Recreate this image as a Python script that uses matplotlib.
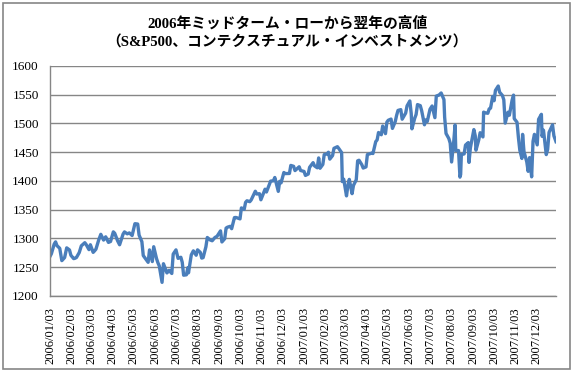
import matplotlib
matplotlib.use("Agg")
import matplotlib.pyplot as plt
from matplotlib.patches import Rectangle
import pandas as pd

title_lines = ["2006年ミッドターム・ローから翌年の高値", "（S&P500、コンテクスチュアル・インベストメンツ）"]

dates_2006 = ["01-03","01-05","01-09","01-11","01-13","01-17","01-20","01-24","01-27","01-31",
"02-02","02-06","02-08","02-10","02-14","02-17","02-22","02-24","02-28",
"03-02","03-06","03-08","03-10","03-14","03-17","03-21","03-24","03-28","03-31",
"04-04","04-06","04-10","04-13","04-18","04-20","04-24","04-27",
"05-01","05-05","05-09","05-11","05-15","05-17","05-19","05-22","05-24","05-26","05-30",
"06-01","06-05","06-07","06-09","06-13","06-15","06-20","06-23","06-27","06-29",
"07-03","07-06","07-10","07-12","07-14","07-18","07-20","07-21","07-25","07-28",
"08-01","08-03","08-07","08-09","08-11","08-15","08-17","08-21","08-24","08-28","08-31",
"09-05","09-07","09-11","09-13","09-15","09-19","09-21","09-25","09-27","09-29",
"10-03","10-05","10-09","10-11","10-13","10-17","10-19","10-23","10-25","10-27","10-31",
"11-02","11-06","11-08","11-10","11-14","11-16","11-20","11-22","11-27","11-29",
"12-01","12-05","12-07","12-11","12-13","12-15","12-19","12-21","12-27","12-29"]
values_2006 = [1268.80,1273.48,1290.15,1294.18,1287.61,1282.93,1261.49,1266.86,1283.72,1280.08,
1270.84,1265.02,1265.65,1266.99,1275.51,1287.24,1292.67,1289.43,1280.66,
1289.14,1275.88,1278.47,1281.42,1297.48,1307.25,1297.23,1302.95,1293.23,1294.83,
1311.56,1309.04,1296.33,1289.12,1307.65,1311.46,1308.11,1309.72,
1305.19,1325.76,1325.14,1305.92,1294.50,1270.32,1267.03,1262.07,1258.57,1280.16,1259.87,
1285.71,1265.29,1257.93,1252.30,1223.69,1256.16,1240.12,1244.50,1239.20,1272.87,
1280.19,1265.48,1267.34,1258.60,1236.20,1236.86,1249.13,1240.29,1271.48,1278.55,
1270.92,1280.27,1275.77,1265.95,1266.74,1285.58,1301.78,1297.52,1296.06,1301.78,1303.82,
1313.25,1294.02,1299.54,1318.07,1319.66,1321.18,1317.07,1336.35,1336.59,1335.85,
1334.11,1353.22,1350.66,1362.83,1365.62,1364.05,1366.96,1377.02,1382.22,1377.34,1377.94,
1367.34,1379.78,1385.72,1380.90,1393.22,1399.76,1400.50,1406.09,1381.96,1399.48,
1396.71,1414.76,1412.90,1413.04,1413.11,1427.09,1425.55,1418.10,1424.73,1418.30]

dates_2007 = ["01-03","01-05","01-09","01-11","01-16","01-18","01-22","01-24","01-26","01-30",
"02-01","02-05","02-07","02-09","02-13","02-15","02-20","02-22","02-26","02-27",
"03-01","03-05","03-07","03-09","03-13","03-15","03-19","03-21","03-23","03-27","03-29",
"04-02","04-04","04-10","04-12","04-16","04-18","04-20","04-24","04-26","04-30",
"05-02","05-04","05-08","05-10","05-14","05-16","05-18","05-22","05-24","05-29","05-31",
"06-04","06-06","06-07","06-11","06-13","06-15","06-19","06-21","06-25","06-27","06-29",
"07-03","07-06","07-10","07-12","07-16","07-19","07-23","07-24","07-26","07-30",
"08-01","08-03","08-06","08-08","08-09","08-13","08-15","08-16","08-17","08-21","08-23","08-27","08-28","08-30",
"09-04","09-06","09-07","09-11","09-13","09-17","09-18","09-20","09-24","09-26","09-28",
"10-01","10-03","10-05","10-09","10-11","10-15","10-17","10-19","10-23","10-25","10-29","10-31",
"11-01","11-05","11-07","11-09","11-12","11-13","11-15","11-19","11-21","11-23","11-26","11-28","11-30",
"12-04","12-06","12-10","12-11","12-13","12-17","12-19","12-21","12-26","12-28","12-31"]
values_2007 = [1416.60,1409.71,1412.11,1423.82,1431.90,1426.37,1422.95,1440.13,1422.18,1428.82,
1445.94,1446.99,1450.02,1438.06,1444.26,1456.81,1459.68,1456.38,1449.37,1399.04,
1403.17,1374.12,1391.97,1402.84,1377.95,1392.28,1402.06,1435.04,1436.11,1428.36,1422.53,
1424.55,1445.94,1448.39,1447.80,1468.47,1471.48,1484.35,1480.41,1495.57,1482.37,
1502.39,1505.62,1507.72,1491.47,1503.15,1514.14,1522.75,1524.12,1507.51,1518.11,1530.62,
1539.18,1517.38,1490.72,1509.12,1515.67,1532.91,1531.05,1522.19,1497.74,1506.34,1503.35,
1524.87,1530.44,1510.12,1547.70,1549.52,1553.08,1541.57,1511.04,1482.66,1473.91,
1465.81,1433.06,1467.67,1497.49,1453.09,1452.92,1406.70,1411.27,1445.94,1447.12,1462.50,1466.79,1432.36,1457.64,
1489.42,1478.55,1453.55,1471.49,1483.95,1476.65,1519.78,1518.75,1517.73,1525.42,1526.75,
1547.04,1539.59,1557.59,1565.15,1554.41,1548.71,1541.24,1500.63,1519.59,1514.40,1540.98,1549.38,
1508.44,1502.17,1475.62,1453.70,1439.18,1481.05,1451.15,1433.27,1416.77,1440.70,1407.22,1469.02,1481.14,
1462.79,1507.34,1515.96,1477.65,1488.41,1445.90,1454.98,1484.46,1497.66,1478.49,1468.36]

y_ticks = [1200, 1250, 1300, 1350, 1400, 1450, 1500, 1550, 1600]
tick_months = [f"2006-{m:02d}-03" for m in range(1, 13)] + [f"2007-{m:02d}-03" for m in range(1, 13)]

dates = pd.to_datetime(["2006-" + d for d in dates_2006] + ["2007-" + d for d in dates_2007])
values = values_2006 + values_2007
ticks = pd.to_datetime(tick_months)

W, H = 574, 375
fig = plt.figure(figsize=(W / 100, H / 100), dpi=100)
fig.patches.append(Rectangle((3 / W, 6 / H), 567 / W, 366 / H, transform=fig.transFigure,
                             fill=False, edgecolor="#868686", linewidth=1.2))

ax = fig.add_axes([50 / W, (H - 296) / H, 506 / W, 230 / H])
ax.plot(dates, values, color="#4A7EBB", linewidth=2.4, solid_joinstyle="round")
ax.set_ylim(1200, 1600)
ax.set_yticks(y_ticks)
ax.set_xlim(dates[0], dates[-1])
ax.set_xticks(ticks)
ax.set_xticklabels([t.strftime("%Y/%m/%d") for t in ticks], rotation=90,
                   fontfamily="Liberation Serif", fontsize=9)
for lab in ax.get_yticklabels():
    lab.set_fontfamily("Liberation Serif")
    lab.set_fontsize(9.5)
ax.tick_params(axis="both", length=0)
ax.tick_params(axis="y", pad=8)
ax.tick_params(axis="x", pad=8)
ax.grid(axis="y", color="#868686", linewidth=1)
ax.set_axisbelow(True)
for s in ["top", "right"]:
    ax.spines[s].set_visible(False)
for s in ["left", "bottom"]:
    ax.spines[s].set_color("#868686")
    ax.spines[s].set_linewidth(1)

fam = ["Liberation Serif", "Noto Sans CJK JP"]
fig.text(0.5, 1 - 23 / H, title_lines[0], ha="center", va="center", fontsize=10.6,
         fontweight="bold", family=fam)
fig.text(0.5, 1 - 42 / H, title_lines[1], ha="center", va="center", fontsize=10.6,
         fontweight="bold", family=fam)

fig.savefig("out.png", dpi=100)
